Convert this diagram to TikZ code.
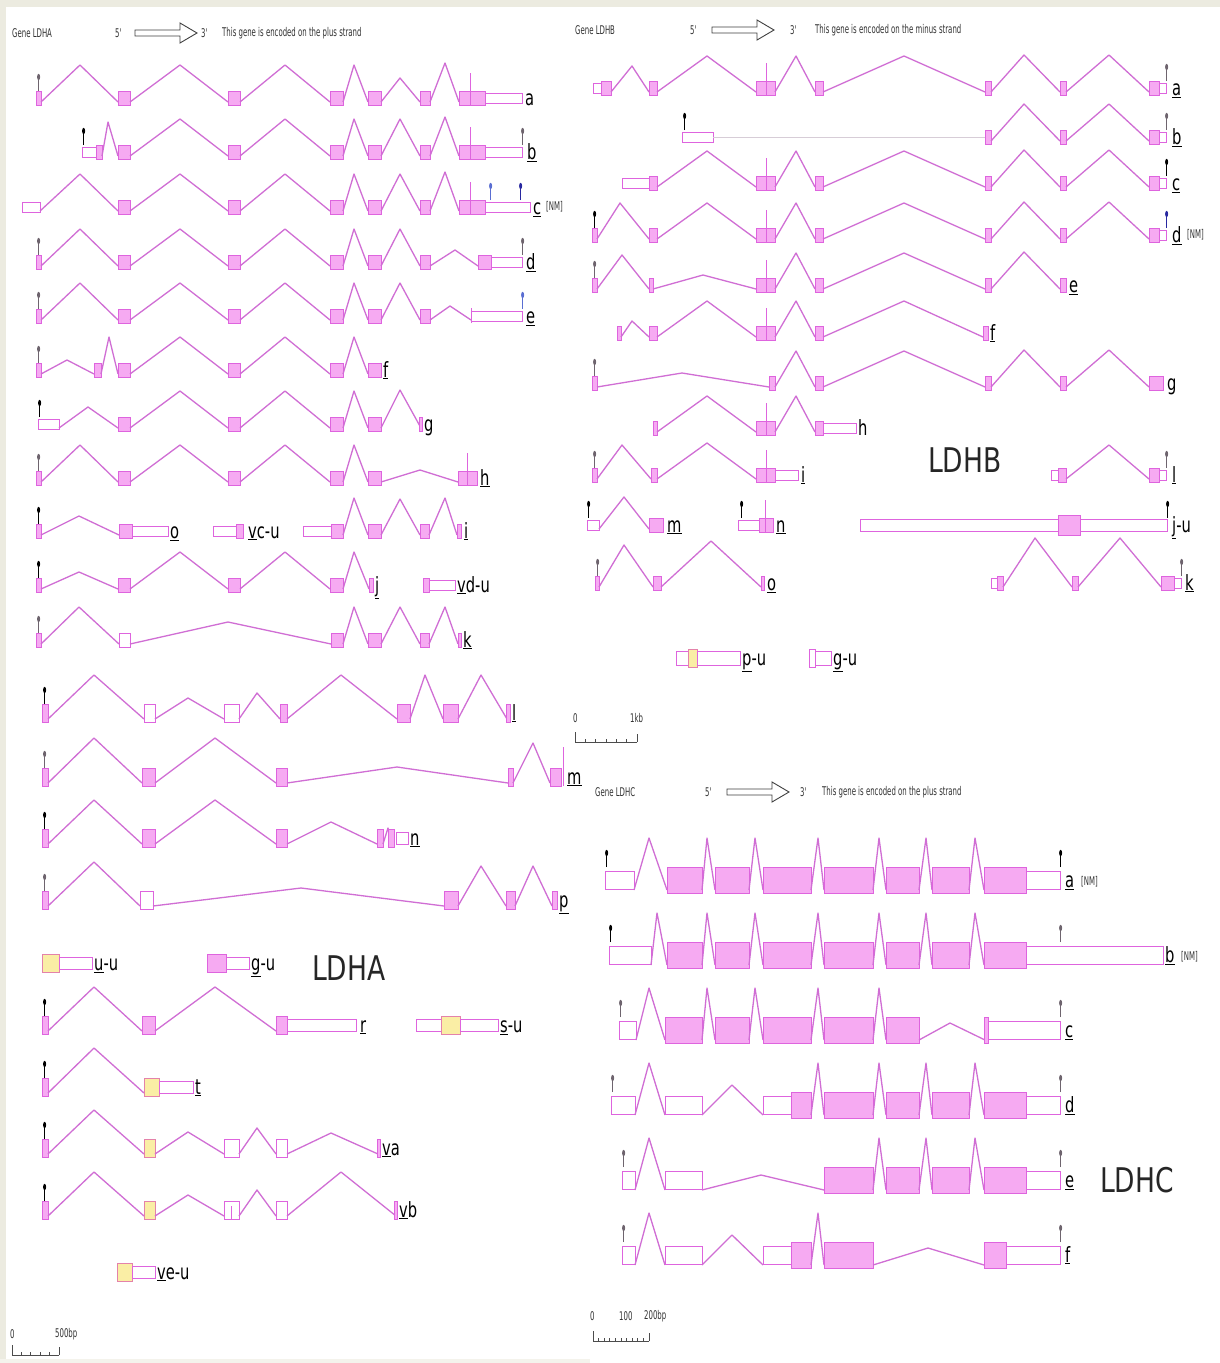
\documentclass[tikz,border=0pt]{standalone}
\usepackage{fontspec}
\setmainfont{DejaVu Sans}
\newfontfamily\condf[FakeStretch=0.7]{DejaVu Sans}
\newfontfamily\bigff[FakeStretch=0.78]{DejaVu Sans}
\newfontfamily\hdrf[FakeStretch=0.58]{DejaVu Sans}
\newcommand\lbf{\condf\fontsize{21}{22}\selectfont}
\newcommand\hdf{\hdrf\fontsize{12}{14}\selectfont}
\newcommand\bgf{\bigff\fontsize{34}{36}\selectfont}
\definecolor{intc}{RGB}{208,110,212}
\definecolor{exd}{RGB}{222,100,222}
\definecolor{exf}{RGB}{246,170,242}
\definecolor{yelf}{RGB}{250,238,165}
\definecolor{yeld}{RGB}{228,130,170}
\definecolor{palec}{RGB}{215,205,215}
\definecolor{mkg}{RGB}{110,100,110}
\definecolor{mkb}{RGB}{40,40,160}
\definecolor{mkl}{RGB}{90,110,210}
\definecolor{framec}{RGB}{236,235,224}
\tikzset{
 intr/.style={draw=intc,line width=1.3pt,line join=round},
 pale/.style={draw=palec,line width=1pt},
 cds/.style={draw=exd,fill=exf,line width=1pt},
 wex/.style={draw=exd,fill=white,line width=1pt},
 yex/.style={draw=yeld,fill=yelf,line width=1pt},
 utr/.style={draw=exd,fill=white,line width=1pt},
 tickl/.style={draw=exd,line width=1pt},
 lab/.style={anchor=base west,inner sep=0pt,font=\lbf},
 hdr/.style={anchor=west,inner sep=0pt,font=\hdf,text=black!80},
 big/.style={anchor=west,inner sep=0pt,font=\bgf,text=black!85},
 harr/.style={draw=black!75,line width=0.9pt,fill=white},
 sbar/.style={draw=black!70,line width=0.8pt},
}
\newcount\labn
\def\gC#1#2{\draw[cds] (#1,\ry-\ch) rectangle (#2,\ry+\ch);}
\def\gW#1#2{\draw[wex] (#1,\ry-\ch) rectangle (#2,\ry+\ch);}
\def\gY#1#2{\draw[yex] (#1,\ry-\ch) rectangle (#2,\ry+\ch);}
\def\gU#1#2{\draw[utr] (#1,\ry-\uh) rectangle (#2,\ry+\uh);}
\def\gI#1#2#3#4{\draw[intr] (#1,\ry+\ioff) -- (#3,\ry-#4) -- (#2,\ry+\ioff);}
\def\gT#1#2{\draw[tickl] (#1,\ry+\ch) -- (#1,\ry-#2);}
\def\gM#1#2{\draw[#2,line width=1pt] (#1,\ry-\ch) -- (#1,\ry-\ch-12); \fill[#2] (#1+0.6,\ry-\ch-14) ellipse (1.5pt and 3.2pt);}
\def\gL#1#2{\global\advance\labn by 1 \node[lab] (L\the\labn) at (#1,\ry+7) {#2};}
\def\ul#1{\underline{#1}}
\def\harrowat#1#2{\draw[harr] (#1,#2-3) -- (#1+45,#2-3) -- (#1+45,#2-10) -- (#1+62,#2) -- (#1+45,#2+10) -- (#1+45,#2+3) -- (#1,#2+3) -- cycle;}
\def\sbarat#1#2#3#4{\draw[sbar] (#1,#3) -- (#2,#3); \foreach \k in {0,...,#4} {\draw[sbar] ({#1+(#2-#1)*\k/#4},#3) -- ({#1+(#2-#1)*\k/#4},#3-3);} \draw[sbar] (#1,#3) -- (#1,#3-10); \draw[sbar] (#2,#3) -- (#2,#3-8);}
\begin{document}
\begin{tikzpicture}[x=1pt,y=-1pt]
\fill[white] (0,0) rectangle (1220,1363);
\useasboundingbox (0,0) rectangle (1220,1363);
\fill[framec] (0,0) rectangle (1220,7);
\fill[framec] (0,7) rectangle (6,1363);
\fill[framec!60] (0,1359) rectangle (590,1363);
% ================= LDHA =================
\node[hdr] (hA1) at (12,33) {Gene LDHA};
\node[hdr] (hA2) at (115,33) {5'};
\harrowat{135}{33}
\node[hdr] (hA3) at (201,33) {3'};
\node[hdr] (hA4) at (222,33) {This gene is encoded on the plus strand};
\def\ch{7}\def\uh{5}\def\ioff{4}
\def\AM{\gC{118}{130}\gI{130}{228}{180}{33}\gC{228}{240}\gI{240}{330}{285}{33}\gC{330}{343}\gI{343}{368}{354}{33}\gC{368}{381}}
\def\AT{\gI{381}{420}{400}{33}\gC{420}{430}\gI{430}{459}{445}{35}\gC{459}{470}\gC{470}{485}\gT{470}{25}}
% a
\def\ry{98}
\gM{38}{mkg}\gC{36}{41}\gI{41}{118}{80}{33}\AM
\gI{381}{420}{400}{20}\gC{420}{430}\gI{430}{459}{445}{35}\gC{459}{470}\gC{470}{485}\gT{470}{25}
\gU{485}{522}\gL{525}{a}
% b
\def\ry{152}
\gM{83}{black}\gU{82}{96}\gC{96}{102}\gI{102}{118}{108}{30}\AM\AT\gU{485}{522}\gM{522}{mkg}\gL{527}{\ul{b}}
% c
\def\ry{207}
\gU{22}{40}\gI{40}{118}{80}{33}\AM\AT\gU{485}{530}\gM{490}{mkl}\gM{520}{mkb}\gL{533}{\ul{c}}
\node[hdr] (nmA) at (546,207) {[NM]};
% d
\def\ry{262}
\gM{38}{mkg}\gC{36}{41}\gI{41}{118}{80}{33}\AM\gI{381}{420}{400}{33}\gC{420}{430}\gI{430}{478}{455}{12}\gC{478}{491}\gU{491}{522}\gM{522}{mkg}\gL{526}{\ul{d}}
% e
\def\ry{316}
\gM{38}{mkg}\gC{36}{41}\gI{41}{118}{80}{33}\AM\gI{381}{420}{400}{33}\gC{420}{430}\gI{430}{471}{450}{10}\gU{471}{522}\gT{471}{8}\gM{522}{mkl}\gL{526}{\ul{e}}
% f
\def\ry{370}
\gM{38}{mkg}\gC{36}{41}\gI{41}{94}{67}{10}\gC{94}{101}\gI{101}{118}{109}{33}\AM\gL{383}{\ul{f}}
% g
\def\ry{424}
\gM{39}{black}\gU{38}{59}\gI{59}{118}{88}{17}\AM\gI{381}{421}{400}{34}\gC{419}{422}\gL{424}{g}
% h
\def\ry{478}
\gM{38}{mkg}\gC{36}{41}\gI{41}{118}{80}{33}\AM\gI{381}{458}{420}{8}\gC{458}{467}\gC{467}{477}\gT{467}{25}\gL{480}{\ul{h}}
% o / vc-u / i
\def\ry{531}
\gM{38}{black}\gC{36}{41}\gI{41}{119}{79}{15}\gC{119}{132}\gU{132}{168}\gL{170}{\ul{o}}
\gU{213}{236}\gC{236}{243}\gL{248}{\ul{v}c-u}
\gU{303}{331}\gC{331}{343}\gI{343}{368}{354}{33}\gC{368}{381}\gI{381}{420}{400}{32}\gC{420}{429}\gI{429}{457}{445}{33}\gC{457}{461}\gL{464}{\ul{i}}
% j / vd-u
\def\ry{585}
\gM{38}{black}\gC{36}{41}\gI{41}{118}{79}{13}\gC{118}{130}\gI{130}{228}{180}{33}\gC{228}{240}\gI{240}{330}{285}{33}\gC{330}{343}\gI{343}{369}{354}{33}\gC{369}{373}\gL{375}{\ul{j}}
\gC{423}{429}\gU{429}{455}\gL{457}{\ul{v}d-u}
% k
\def\ry{640}
\gM{38}{mkg}\gC{36}{41}\gI{41}{119}{79}{33}\gW{119}{130}\gI{130}{331}{228}{18}\gC{331}{343}\gI{343}{368}{354}{33}\gC{368}{381}\gI{381}{420}{400}{33}\gC{420}{429}\gI{429}{458}{445}{33}\gC{458}{461}\gL{463}{\ul{k}}
% lower LDHA rows
\def\ch{9}\def\uh{6}\def\ioff{6}
% l
\def\ry{713}
\gM{44}{black}\gC{42}{48}\gI{48}{144}{94}{38}\gW{144}{155}\gI{155}{224}{188}{15}\gW{224}{239}\gI{239}{280}{257}{20}\gC{280}{287}\gI{287}{397}{341}{38}\gC{397}{410}\gI{410}{443}{425}{38}\gC{443}{458}\gI{458}{507}{481}{38}\gC{506}{510}\gL{512}{\ul{l}}
% m
\def\ry{777}
\gM{44}{mkg}\gC{42}{48}\gI{48}{142}{94}{39}\gC{142}{155}\gI{155}{276}{215}{39}\gC{276}{287}\gI{287}{508}{397}{10}\gC{508}{513}\gI{513}{550}{533}{34}\gC{550}{561}\gT{563}{30}\gL{567}{\ul{m}}
% n
\def\ry{838}
\gM{44}{black}\gC{42}{48}\gI{48}{142}{94}{38}\gC{142}{155}\gI{155}{276}{215}{38}\gC{276}{287}\gI{287}{377}{331}{16}\gC{377}{383}\gI{383}{392}{388}{10}\gC{388}{394}\gU{396}{408}\gL{410}{\ul{n}}
% p
\def\ry{900}
\gM{44}{mkg}\gC{42}{48}\gI{48}{140}{94}{38}\gW{140}{153}\gI{153}{444}{301}{12}\gC{444}{458}\gI{458}{506}{481}{34}\gC{506}{515}\gI{515}{552}{533}{34}\gC{552}{557}\gL{559}{\ul{p}}
% u-u / g-u / LDHA
\def\ry{963}
\gY{42}{59}\gU{59}{92}\gL{94}{\ul{u}-u}
\gC{207}{226}\gU{226}{249}\gL{251}{\ul{g}-u}
\node[big] (bigA) at (312,968) {LDHA};
% r / s-u
\def\ry{1025}
\gM{44}{black}\gC{42}{48}\gI{48}{142}{94}{38}\gC{142}{155}\gI{155}{276}{215}{38}\gC{276}{287}\gU{287}{356}\gL{360}{\ul{r}}
\gU{416}{441}\gY{441}{460}\gU{460}{498}\gL{500}{\ul{s}-u}
% t
\def\ry{1087}
\gM{44}{black}\gC{42}{48}\gI{48}{144}{94}{39}\gY{144}{159}\gU{159}{193}\gL{195}{\ul{t}}
% va
\def\ry{1148}
\gM{44}{black}\gC{42}{48}\gI{48}{144}{94}{38}\gY{144}{155}\gI{155}{224}{188}{16}\gW{224}{239}\gI{239}{276}{257}{20}\gW{276}{287}\gI{287}{378}{331}{15}\gC{377}{380}\gL{382}{\ul{v}a}
% vb
\def\ry{1210}
\gM{44}{black}\gC{42}{48}\gI{48}{144}{94}{38}\gY{144}{155}\gI{155}{224}{188}{15}\gW{224}{239}\gT{231}{4}\gI{239}{276}{257}{20}\gW{276}{287}\gI{287}{396}{341}{38}\gC{394}{397}\gL{399}{\ul{v}b}
% ve-u
\def\ry{1272}
\gY{117}{132}\gU{132}{155}\gL{157}{\ul{v}e-u}
% scale bar LDHA
\node[hdr] (sA0) at (10,1334) {0};
\node[hdr] (sA1) at (55,1334) {500bp};
\sbarat{12}{59}{1355}{5}
% ================= LDHB =================
\node[hdr] (hB1) at (575,30) {Gene LDHB};
\node[hdr] (hB2) at (690,30) {5'};
\harrowat{712}{30}
\node[hdr] (hB3) at (790,30) {3'};
\node[hdr] (hB4) at (815,30) {This gene is encoded on the minus strand};
\def\ch{7}\def\uh{5}\def\ioff{4}
\def\Bthree{\gC{756}{766}\gC{766}{775}\gT{766}{25}}
\def\Bmid{\Bthree\gI{775}{815}{796}{32}\gC{815}{823}\gI{823}{985}{904}{32}\gC{985}{991}}
\def\Bend{\gI{991}{1060}{1024}{33}\gC{1060}{1066}\gI{1066}{1149}{1109}{33}\gC{1149}{1159}\gU{1159}{1166}}
% a
\def\ry{88}
\gU{593}{601}\gC{601}{611}\gI{611}{649}{632}{22}\gC{649}{657}\gI{657}{756}{707}{32}\Bmid\Bend\gM{1166}{mkg}\gL{1172}{\ul{a}}
% b
\def\ry{137}
\gM{684}{black}\gU{682}{713}\draw[pale] (713,\ry) -- (985,\ry);\gC{985}{991}\Bend\gM{1166}{mkg}\gL{1172}{\ul{b}}
% c
\def\ry{183}
\gU{622}{649}\gC{649}{657}\gI{657}{756}{707}{32}\Bmid\Bend\gM{1166}{black}\gL{1172}{\ul{c}}
% d
\def\ry{235}
\gM{594}{black}\gC{592}{597}\gI{597}{649}{620}{32}\gC{649}{657}\gI{657}{756}{707}{32}\Bmid\Bend\gM{1166}{mkb}\gL{1172}{\ul{d}}
\node[hdr] (nmB) at (1187,235) {[NM]};
% e
\def\ry{285}
\gM{594}{mkg}\gC{592}{597}\gI{597}{649}{622}{30}\gC{649}{653}\gI{653}{756}{703}{10}\Bmid\gI{991}{1060}{1024}{33}\gC{1060}{1066}\gL{1069}{\ul{e}}
% f
\def\ry{333}
\gC{617}{621}\gI{621}{649}{632}{12}\gC{649}{657}\gI{657}{756}{707}{32}\Bthree\gI{775}{815}{796}{32}\gC{815}{823}\gI{823}{983}{904}{32}\gC{983}{988}\gL{990}{\ul{f}}
% g
\def\ry{383}
\gM{594}{mkg}\gC{592}{597}\gI{597}{769}{682}{10}\gC{769}{775}\gI{775}{815}{796}{32}\gC{815}{823}\gI{823}{985}{904}{32}\gC{985}{991}\gI{991}{1060}{1024}{33}\gC{1060}{1066}\gI{1066}{1149}{1109}{33}\gC{1149}{1163}\gL{1167}{g}
% h
\def\ry{428}
\gC{653}{657}\gI{657}{756}{707}{32}\Bthree\gI{775}{815}{796}{32}\gC{815}{823}\gU{823}{856}\gL{858}{h}
\node[big] (bigB) at (928,460) {LDHB};
% i / l
\def\ry{475}
\gM{594}{mkg}\gC{592}{597}\gI{597}{651}{622}{30}\gC{651}{657}\gI{657}{756}{707}{32}\Bthree\gU{775}{798}\gL{801}{\ul{i}}
\gU{1051}{1058}\gC{1058}{1066}\gI{1066}{1149}{1109}{30}\gC{1149}{1159}\gU{1159}{1166}\gM{1166}{mkg}\gL{1172}{\ul{l}}
% m / n / j-u
\def\ry{525}
\gM{588}{black}\gU{587}{599}\gI{599}{649}{624}{28}\gC{649}{663}\gL{667}{\ul{m}}
\gM{741}{black}\gU{738}{759}\gC{759}{773}\gT{765}{25}\gL{776}{\ul{n}}
\draw[utr] (860,\ry-6) rectangle (1167,\ry+6);
\draw[cds] (1058,\ry-10) rectangle (1080,\ry+10);
\gM{1167}{black}\gL{1172}{\ul{j}-u}
% o / k
\def\ry{583}
\gM{597}{mkg}\gC{595}{599}\gI{599}{653}{624}{38}\gC{653}{661}\gI{661}{761}{711}{42}\gC{761}{764}\gL{767}{\ul{o}}
\gU{991}{997}\gC{997}{1003}\gI{1003}{1072}{1035}{45}\gC{1072}{1078}\gI{1078}{1161}{1120}{45}\gC{1161}{1174}\gU{1174}{1181}\gM{1181}{mkg}\gL{1185}{\ul{k}}
% p-u / g-u
\def\ry{658}
\def\ch{9}\def\uh{7}
\gU{676}{688}\gY{688}{697}\gU{697}{740}\gL{742}{\ul{p}-u}
\gW{809}{815}\gU{815}{831}\gL{833}{\ul{g}-u}
% scale bar LDHB
\node[hdr] (sB0) at (573,718) {0};
\node[hdr] (sB1) at (630,718) {1kb};
\sbarat{575}{637}{742}{6}
% ================= LDHC =================
\node[hdr] (hC1) at (595,792) {Gene LDHC};
\node[hdr] (hC2) at (705,792) {5'};
\harrowat{727}{792}
\node[hdr] (hC3) at (800,792) {3'};
\node[hdr] (hC4) at (822,792) {This gene is encoded on the plus strand};
\def\ch{13}\def\uh{9}\def\ioff{10}
\def\Cfull{\gI{702}{715}{707}{42}\gC{715}{749}\gI{749}{763}{755}{42}\gC{763}{811}\gI{811}{824}{818}{42}\gC{824}{873}\gI{873}{886}{879}{42}\gC{886}{919}\gI{919}{932}{926}{42}\gC{932}{969}\gI{969}{984}{975}{42}\gC{984}{1026}}
% a
\def\ry{880}
\gM{606}{black}\gU{605}{634}\gI{634}{667}{649}{42}\gC{667}{702}\Cfull\gU{1026}{1060}\gM{1060}{black}\gL{1065}{\ul{a}}
\node[hdr] (nmC1) at (1081,882) {[NM]};
% b
\def\ry{955}
\gM{610}{black}\gU{609}{651}\gI{651}{667}{657}{42}\gC{667}{702}\Cfull\gU{1026}{1163}\gM{1060}{mkg}\gL{1165}{\ul{b}}
\node[hdr] (nmC2) at (1181,957) {[NM]};
% c
\def\ry{1030}
\gM{620}{mkg}\gU{619}{636}\gI{636}{665}{649}{42}\gC{665}{702}\gI{702}{715}{707}{42}\gC{715}{749}\gI{749}{763}{755}{42}\gC{763}{811}\gI{811}{824}{818}{42}\gC{824}{873}\gI{873}{886}{879}{42}\gC{886}{919}\gI{919}{985}{950}{7}\gC{984}{988}\gU{988}{1060}\gM{1060}{mkg}\gL{1065}{\ul{c}}
% d
\def\ry{1105}
\gM{612}{mkg}\gU{611}{635}\gI{635}{665}{649}{42}\gU{665}{702}\gI{702}{763}{732}{20}\gU{763}{791}\gC{791}{811}\gI{811}{824}{818}{42}\gC{824}{873}\gI{873}{886}{879}{42}\gC{886}{919}\gI{919}{932}{926}{42}\gC{932}{969}\gI{969}{984}{975}{42}\gC{984}{1026}\gU{1026}{1060}\gM{1060}{mkg}\gL{1065}{\ul{d}}
% e
\def\ry{1180}
\gM{623}{mkg}\gU{622}{635}\gI{635}{665}{649}{42}\gU{665}{702}\gI{702}{824}{761}{5}\gC{824}{873}\gI{873}{886}{879}{42}\gC{886}{919}\gI{919}{932}{926}{42}\gC{932}{969}\gI{969}{984}{975}{42}\gC{984}{1026}\gU{1026}{1060}\gM{1060}{mkg}\gL{1065}{\ul{e}}
\node[big] (bigC) at (1100,1180) {LDHC};
% f
\def\ry{1255}
\gM{623}{mkg}\gU{622}{635}\gI{635}{665}{649}{42}\gU{665}{702}\gI{702}{763}{732}{20}\gU{763}{791}\gC{791}{811}\gI{811}{824}{818}{42}\gC{824}{873}\gI{873}{984}{928}{7}\gC{984}{1006}\gU{1006}{1060}\gM{1060}{mkg}\gL{1065}{\ul{f}}
% scale bar LDHC
\node[hdr] (sC0) at (590,1316) {0};
\node[hdr] (sC1) at (619,1316) {100};
\node[hdr] (sC2) at (644,1316) {200bp};
\sbarat{593}{649}{1341}{10}
\end{tikzpicture}
\end{document}
